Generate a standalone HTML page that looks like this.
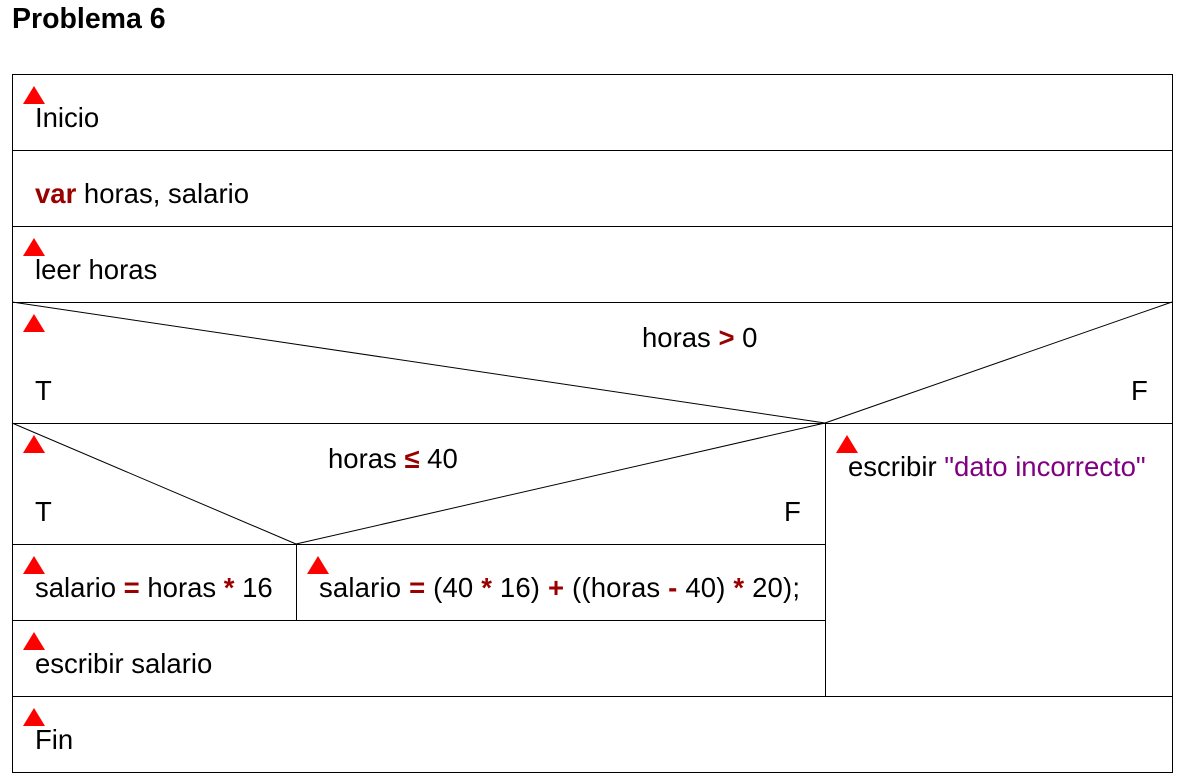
<!DOCTYPE html>
<html><head><meta charset="utf-8"><style>
body{margin:0;background:#fff;}
svg{display:block;font-family:"Liberation Sans",Arial,sans-serif;}
.t{font-size:27.5px;fill:#000;}
.r{fill:#990000;font-weight:bold;}
.p{fill:#800080;}
</style></head><body>
<svg width="1185" height="782" viewBox="0 0 1185 782" xmlns="http://www.w3.org/2000/svg">
<rect width="1185" height="782" fill="#fff"/>
<text x="12" y="28" style="font-size:28.5px;font-weight:bold">Problema 6</text>
<g stroke="#000" stroke-width="1" fill="none">
<rect x="12.5" y="74.5" width="1160" height="698"/>
<line x1="12" y1="150.5" x2="1172" y2="150.5"/>
<line x1="12" y1="226.5" x2="1172" y2="226.5"/>
<line x1="12" y1="302.5" x2="1172" y2="302.5"/>
<line x1="12" y1="423.5" x2="1172" y2="423.5"/>
<line x1="12" y1="544.5" x2="826" y2="544.5"/>
<line x1="12" y1="620.5" x2="826" y2="620.5"/>
<line x1="12" y1="696.5" x2="1172" y2="696.5"/>
<line x1="825.5" y1="423" x2="825.5" y2="696"/>
<line x1="296.5" y1="544" x2="296.5" y2="620"/>
<line x1="12" y1="302" x2="825" y2="423"/>
<line x1="1172" y1="302" x2="825" y2="423"/>
<line x1="12" y1="423" x2="296" y2="544"/>
<line x1="825" y1="423" x2="296" y2="544"/>
</g>
<g fill="#ff0000">
<polygon points="34,86 23,104 45,104"/>
<polygon points="34,238 23,256 45,256"/>
<polygon points="34,314 23,332 45,332"/>
<polygon points="34,435 23,453 45,453"/>
<polygon points="847,435 836,453 858,453"/>
<polygon points="34,556 23,574 45,574"/>
<polygon points="318,556 307,574 329,574"/>
<polygon points="34,632 23,650 45,650"/>
<polygon points="34,708 23,726 45,726"/>
</g>
<g class="t">
<text x="35" y="127">Inicio</text>
<text x="35" y="203"><tspan class="r">var</tspan> horas, salario</text>
<text x="35" y="279">leer horas</text>
<text x="642" y="347">horas <tspan class="r">&gt;</tspan> 0</text>
<text x="35" y="400">T</text>
<text x="1131" y="400">F</text>
<text x="328" y="468">horas <tspan class="r">≤</tspan> 40</text>
<text x="35" y="521">T</text>
<text x="784" y="521">F</text>
<text x="848" y="476">escribir <tspan class="p">"dato incorrecto"</tspan></text>
<text x="35" y="597">salario <tspan class="r">=</tspan> horas <tspan class="r">*</tspan> 16</text>
<text x="319" y="597" textLength="481" lengthAdjust="spacing">salario <tspan class="r">=</tspan> (40 <tspan class="r">*</tspan> 16) <tspan class="r">+</tspan> ((horas <tspan class="r">-</tspan> 40) <tspan class="r">*</tspan> 20);</text>
<text x="35" y="673">escribir salario</text>
<text x="35" y="749">Fin</text>
</g>
</svg>
</body></html>
